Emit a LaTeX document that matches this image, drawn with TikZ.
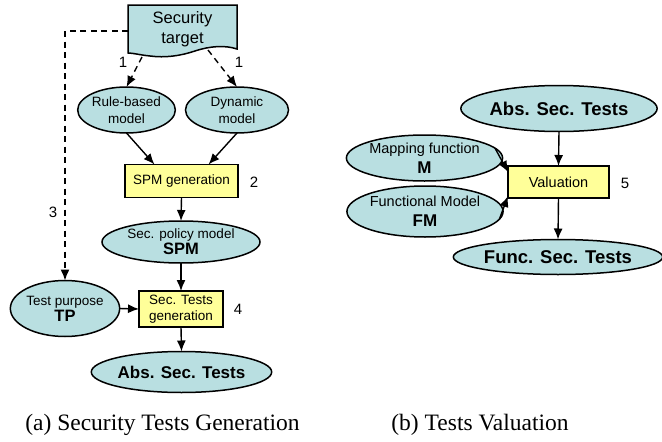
\documentclass[tikz,border=0pt]{standalone}
\usepackage{fontspec}
\setmainfont{Liberation Serif}
\newfontfamily\arialf{Liberation Sans}
\usetikzlibrary{shapes.geometric,arrows.meta,calc}
\definecolor{ellfill}{HTML}{B9DFE1}
\definecolor{boxfill}{HTML}{FFFF99}
\tikzset{
  ell/.style={ellipse,draw,line width=1.5pt,fill=ellfill,inner sep=0pt,outer sep=0pt,align=center,font=\arialf\fontsize{13.5}{16}\selectfont},
  procbox/.style={rectangle,draw,line width=1.5pt,fill=boxfill,inner sep=0pt,outer sep=0pt,align=center,font=\arialf\fontsize{13.5}{16}\selectfont},
  arr/.style={line width=1.4pt,-{Latex[length=11pt,width=9pt]}},
  darr/.style={line width=1.4pt,dash pattern=on 6pt off 4.5pt,-{Latex[length=11pt,width=9pt]}},
  num/.style={font=\arialf\fontsize{15}{18}\selectfont},
  captext/.style={font=\fontsize{23.5}{28}\selectfont},
  bigb/.style={font=\arialf\bfseries\fontsize{17}{20}\selectfont}
}
\begin{document}
\begin{tikzpicture}[x=1pt,y=-1pt]
\useasboundingbox (0,0) rectangle (662,442);
% Security target document shape
\filldraw[fill=ellfill,line width=1.5pt] (128,5) -- (237,5) -- (237,49) .. controls (225,45) and (210,46) .. (195,51) .. controls (180,56) and (165,58) .. (150,56) .. controls (140,55) and (133,53) .. (128,53) -- cycle;
\node[font=\arialf\fontsize{16.5}{20}\selectfont,align=center,minimum width=109pt,minimum height=50pt,inner sep=0pt,outer sep=0pt] (st) at (182.5,29) {Security\\target};
\coordinate (stl) at (142,57);
\coordinate (str) at (208,50);
\coordinate (c3) at (65,31);

% left diagram
\node[ell,minimum width=93pt,minimum height=46pt] (rb) at (126.5,110) {Rule-based\\[1pt]model};
\node[ell,minimum width=103pt,minimum height=46pt] (dm) at (237,110) {Dynamic\\[1pt]model};
\node[procbox,minimum width=113pt,minimum height=33pt] (spmg) at (181.5,181) {SPM generation};
\node[ell,minimum width=158pt,minimum height=42pt] (spm) at (181,242) {Sec. policy model\\[0pt]{\bfseries\fontsize{16.5}{18}\selectfont SPM}};
\node[procbox,minimum width=84pt,minimum height=36pt] (stg) at (181,309) {Sec. Tests\\generation};
\node[ell,minimum width=104pt,minimum height=56pt] (tp) at (65,308.5) {Test purpose\\[0pt]{\bfseries\fontsize{16.5}{18}\selectfont TP}};
\node[ell,minimum width=155pt,minimum height=41pt,bigb] (abs) at (181.5,372) {Abs. Sec. Tests};

\draw[darr] (stl) -- (rb.north);
\draw[darr] (str) -- (dm.north);
\draw[darr] (st.west |- c3) -- (c3) -- (tp.north);
\draw[arr] (rb.south) -- ($(spmg.north)+(-27,0)$);
\draw[arr] (dm.south) -- ($(spmg.north)+(27,0)$);
\draw[arr] (spmg.south) -- (spm.north);
\draw[arr] (spm.south) -- (stg.north);
\draw[arr] (tp.east) -- (stg.west);
\draw[arr] (stg.south) -- (abs.north);

\node[num] (n1a) at (123,62) {1};
\node[num] (n1b) at (239,62) {1};
\node[num] (n2) at (254,182) {2};
\node[num] (n3) at (53,212) {3};
\node[num] (n4) at (238,309) {4};

\node[captext] (capa) at (162.5,425) {(a) Security Tests Generation};

% right diagram
\node[ell,minimum width=168pt,minimum height=46pt,font=\arialf\bfseries\fontsize{18.5}{22}\selectfont] (abs2) at (559,108.5) {Abs. Sec. Tests};
\node[procbox,minimum width=101pt,minimum height=32pt,font=\arialf\fontsize{14.5}{17}\selectfont] (val) at (558.5,182) {Valuation};
\node[ell,minimum width=147pt,minimum height=46pt,font=\arialf\fontsize{14.5}{17}\selectfont] (mf) at (424.5,158) {Mapping function\\[3pt]{\bfseries\fontsize{17}{18}\selectfont M}};
\node[ell,minimum width=149pt,minimum height=51pt,font=\arialf\fontsize{14.5}{17}\selectfont] (fm) at (425,211.5) {Functional Model\\[3pt]{\bfseries\fontsize{17}{18}\selectfont FM}};
\node[ell,minimum width=173pt,minimum height=35pt,font=\arialf\bfseries\fontsize{18.5}{22}\selectfont] (fst) at (558,257) {Func. Sec. Tests};
\node[num] (n5) at (625,183) {5};

\draw[arr] (abs2.south) -- (val.north);
\draw[arr] (val.south) -- (fst.north);
\draw[arr] (mf.8) -- ($(val.west)+(0,-10)$);
\draw[arr] (fm.-6) -- ($(val.south west)+(0,-2)$);

\node[captext] (capb) at (480,425) {(b) Tests Valuation};
\end{tikzpicture}
\end{document}
